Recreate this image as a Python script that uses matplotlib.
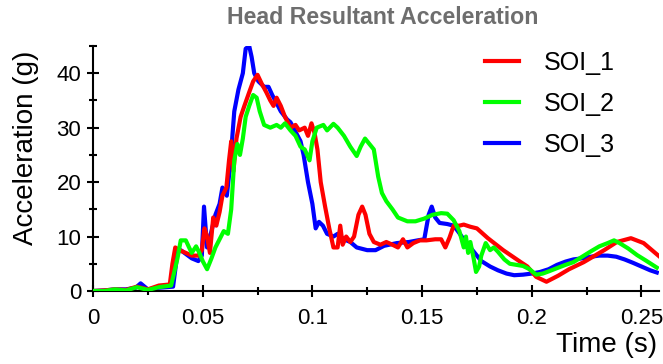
import matplotlib
matplotlib.use("Agg")
import matplotlib.pyplot as plt
from matplotlib.ticker import MultipleLocator
from matplotlib import font_manager

plt.rcParams['font.family'] = ['Liberation Sans', 'DejaVu Sans']

# condensed face for the tick numbers when it is available
_names = {f.name for f in font_manager.fontManager.ttflist}
TICK_FAMILY = ['Liberation Sans Narrow'] if 'Liberation Sans Narrow' in _names else ['Liberation Sans']
TICK_SIZE = 18 if 'Liberation Sans Narrow' in _names else 16

# SOI_1 (red)
t1 = [0.0, 0.005, 0.01, 0.015, 0.02, 0.025, 0.03, 0.035, 0.0362, 0.0375, 0.0394,
      0.0423, 0.045, 0.048, 0.0496, 0.0508, 0.052, 0.0533, 0.0548, 0.0562, 0.0577,
      0.059, 0.0608, 0.062, 0.063, 0.064, 0.0654, 0.0673, 0.069, 0.0712, 0.073,
      0.075, 0.077, 0.079, 0.0808, 0.0823, 0.0837, 0.0856, 0.0875, 0.090, 0.0923,
      0.094, 0.0965, 0.098, 0.0996, 0.101, 0.1023, 0.1038, 0.1058, 0.1077, 0.1096,
      0.1115, 0.1127, 0.1138, 0.1154, 0.1173, 0.119, 0.121, 0.1227, 0.1242, 0.126,
      0.128, 0.131, 0.1337, 0.1365, 0.139, 0.1413, 0.1433, 0.146, 0.149, 0.152,
      0.156, 0.1587, 0.1606, 0.1625, 0.1644, 0.167, 0.169, 0.172, 0.175, 0.18,
      0.187, 0.195, 0.198, 0.202, 0.2067, 0.212, 0.217, 0.2237, 0.233, 0.2388,
      0.2452, 0.251, 0.258]
a1 = [0.0, 0.1, 0.3, 0.2, 0.8, 0.3, 1.0, 1.2, 5.0, 8.0, 7.5,
      7.0, 6.5, 6.5, 7.5, 11.5, 10.0, 7.0, 13.5, 12.0, 14.5,
      17.5, 19.0, 24.0, 27.5, 22.0, 28.0, 32.0, 34.0, 36.5, 38.5,
      39.7, 38.0, 36.5, 35.0, 34.0, 35.5, 34.0, 32.0, 30.0, 30.5,
      29.5, 30.0, 28.5, 30.8, 29.0, 26.0, 20.0, 15.5, 11.5, 8.0,
      8.0, 12.0, 8.5, 10.0, 9.0, 10.0, 14.0, 15.5, 14.0, 10.5,
      9.0, 8.5, 9.0, 8.5, 8.0, 9.5, 8.0, 8.8, 9.3, 9.3,
      9.5, 9.5, 8.0, 9.8, 12.0, 12.0, 12.2, 11.8, 11.5, 9.7,
      7.5, 5.3, 4.5, 2.6, 1.7, 2.8, 4.0, 5.3, 7.5, 9.0,
      9.7, 8.8, 6.4]

# SOI_2 (green)
t2 = [0.0, 0.005, 0.01, 0.015, 0.02, 0.025, 0.03, 0.0356, 0.0385, 0.040, 0.0423,
      0.0438, 0.045, 0.047, 0.0485, 0.050, 0.052, 0.054, 0.0558, 0.0577, 0.0596,
      0.0615, 0.063, 0.0644, 0.0658, 0.067, 0.0683, 0.0696, 0.0712, 0.073, 0.0746,
      0.076, 0.078, 0.0808, 0.0837, 0.0856, 0.0875, 0.090, 0.0923, 0.0946, 0.0965,
      0.0987, 0.100, 0.102, 0.105, 0.1067, 0.1096, 0.1115, 0.1144, 0.1173, 0.1202,
      0.122, 0.124, 0.126, 0.128, 0.130, 0.1317, 0.1337, 0.1365, 0.139, 0.1433,
      0.147, 0.151, 0.1548, 0.1587, 0.1615, 0.1644, 0.167, 0.169, 0.170, 0.171,
      0.172, 0.1735, 0.1746, 0.176, 0.177, 0.179, 0.181, 0.1827, 0.1846, 0.1875,
      0.190, 0.193, 0.196, 0.199, 0.202, 0.205, 0.2077, 0.2115, 0.2154, 0.219,
      0.223, 0.227, 0.2308, 0.2346, 0.2375, 0.240, 0.244, 0.248, 0.252, 0.257]
a2 = [0.0, 0.0, 0.3, 0.1, 0.7, 0.2, 0.7, 1.0, 6.0, 9.3, 9.3,
      8.0, 7.0, 8.2, 7.0, 5.5, 4.0, 6.0, 8.0, 9.5, 11.0,
      10.5, 15.0, 24.0, 27.0, 25.0, 28.0, 32.0, 34.0, 36.0, 35.5,
      33.0, 30.5, 30.0, 30.5, 30.0, 30.8, 29.5, 28.5, 26.5, 26.0,
      24.0, 27.5, 30.0, 30.5, 29.5, 30.7, 30.0, 28.5, 26.5, 24.8,
      26.5, 28.0, 27.0, 26.0, 21.0, 18.0, 16.5, 15.0, 13.5, 12.8,
      12.8, 13.3, 14.0, 14.3, 14.2, 13.0, 11.0, 8.0, 10.0, 7.0,
      9.0, 6.0, 3.5, 4.5, 6.5, 8.8, 7.5, 8.0, 7.2, 5.8,
      5.0, 4.8, 4.6, 4.0, 3.0, 3.2, 3.6, 4.2, 4.8, 5.3,
      6.3, 7.3, 8.2, 8.8, 9.3, 8.8, 7.8, 6.6, 5.6, 4.3]

# SOI_3 (blue)
t3 = [0.0, 0.005, 0.01, 0.015, 0.0195, 0.0217, 0.025, 0.03, 0.0365, 0.0385, 0.040,
      0.045, 0.048, 0.0496, 0.0506, 0.052, 0.054, 0.0558, 0.0577, 0.059, 0.061,
      0.0625, 0.0644, 0.0663, 0.0683, 0.0696, 0.0712, 0.0723, 0.0735, 0.0754, 0.078,
      0.080, 0.0817, 0.0837, 0.0856, 0.0885, 0.090, 0.092, 0.0946, 0.096, 0.098,
      0.100, 0.1015, 0.103, 0.1048, 0.1067, 0.1096, 0.1115, 0.1144, 0.1173, 0.1202,
      0.125, 0.1288, 0.1327, 0.1385, 0.144, 0.148, 0.151, 0.153, 0.1544, 0.156,
      0.158, 0.1615, 0.1644, 0.1663, 0.169, 0.173, 0.177, 0.181, 0.1846, 0.1885,
      0.192, 0.196, 0.200, 0.2038, 0.2077, 0.2115, 0.2154, 0.219, 0.223, 0.227,
      0.2308, 0.2346, 0.2385, 0.2423, 0.246, 0.250, 0.254, 0.257]
a3 = [0.0, 0.1, 0.3, 0.3, 0.6, 1.4, 0.3, 0.6, 0.8, 7.0, 7.5,
      6.0, 5.5, 6.5, 15.5, 8.0, 11.0, 14.0, 16.0, 19.0, 17.5,
      23.0, 33.0, 37.0, 40.0, 44.5, 45.0, 43.0, 40.0, 38.5, 37.5,
      37.5, 36.0, 34.5, 33.0, 31.5, 31.0, 29.5, 27.5, 25.0, 20.0,
      16.0, 11.5, 12.7, 12.0, 10.5, 10.0, 10.5, 9.5, 9.0, 8.0,
      7.5, 7.5, 8.3, 8.8, 9.0, 9.3, 9.5, 14.0, 15.5, 13.5,
      12.5, 12.3, 12.0, 11.0, 9.5, 7.5, 5.5, 4.5, 3.8, 3.2,
      2.9, 3.0, 3.2, 3.5, 4.0, 4.8, 5.4, 5.8, 6.0, 6.3,
      6.5, 6.5, 6.3, 5.8, 5.2, 4.5, 3.8, 3.4]

x_ticks = [0, 0.05, 0.1, 0.15, 0.2, 0.25]
x_tick_labels = ['0', '0.05', '0.1', '0.15', '0.2', '0.25']
y_ticks = [0, 10, 20, 30, 40]
y_tick_labels = ['0', '10', '20', '30', '40']

fig = plt.figure(figsize=(6.63, 3.64), dpi=100)
ax = fig.add_axes([93 / 663, 1 - 291 / 364, 566 / 663, 245 / 364])

lw = 3.0
l3, = ax.plot(t3, a3, color='#0000ff', lw=lw, label='SOI_3', zorder=2)
l1, = ax.plot(t1, a1, color='#ff0000', lw=lw, label='SOI_1', zorder=3)
l2, = ax.plot(t2, a2, color='#00ff00', lw=lw, label='SOI_2', zorder=4)

ax.set_xlim(0, 0.258)
ax.set_ylim(0, 45)

for side in ('top', 'right'):
    ax.spines[side].set_visible(False)
for side in ('left', 'bottom'):
    ax.spines[side].set_linewidth(1.5)
    ax.spines[side].set_color('black')

ax.set_xticks(x_ticks)
ax.set_xticklabels(x_tick_labels, family=TICK_FAMILY, fontsize=TICK_SIZE)
ax.set_yticks(y_ticks)
ax.set_yticklabels(y_tick_labels, family=TICK_FAMILY, fontsize=TICK_SIZE)
ax.xaxis.set_minor_locator(MultipleLocator(0.025))
ax.yaxis.set_minor_locator(MultipleLocator(5))
ax.tick_params(which='major', direction='inout', length=9, width=1.5)
ax.tick_params(which='minor', direction='inout', length=6, width=1.5)
ax.tick_params(axis='y', which='major', pad=4)
ax.tick_params(axis='x', which='major', pad=8)

fig.text(26 / 663, 1 - 148 / 364, 'Acceleration (g)', rotation=90, fontsize=20,
         ha='center', va='center')
fig.text(657 / 663, 1 - 345 / 364, 'Time (s)', fontsize=20, ha='right', va='center')
fig.text(383 / 663, 1 - 17 / 364, 'Head Resultant Acceleration', fontsize=16.7,
         fontweight='bold', color='#6e6e6e', ha='center', va='center')

ax.legend(handles=[l1, l2, l3], loc='upper left',
          bbox_to_anchor=(485 / 663, 1 - 51 / 364), bbox_transform=fig.transFigure,
          frameon=False, fontsize=18, handlelength=1.35, handletextpad=1.0,
          labelspacing=0.68, borderpad=0, borderaxespad=0)

fig.savefig('out.png', dpi=100)
